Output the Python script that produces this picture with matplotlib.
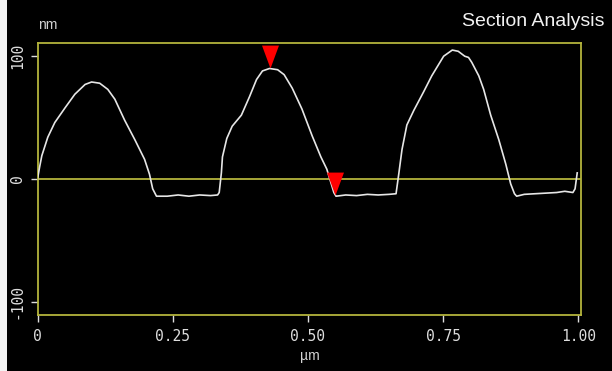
import matplotlib
matplotlib.use("Agg")
import matplotlib.pyplot as plt
from matplotlib.path import Path
from matplotlib.patches import Rectangle

# Section profile (µm, nm)
pos_um = [0.000, 0.004, 0.008, 0.019, 0.032, 0.051, 0.069, 0.088, 0.100, 0.115,
          0.130, 0.143, 0.161, 0.180, 0.198, 0.207, 0.213, 0.220,
          0.240, 0.260, 0.280, 0.300, 0.320, 0.333,
          0.336, 0.340, 0.342, 0.350, 0.360, 0.377, 0.392, 0.405, 0.416, 0.429,
          0.444, 0.456, 0.471, 0.489, 0.508, 0.524, 0.535, 0.548, 0.552,
          0.570, 0.590, 0.610, 0.630, 0.650, 0.663,
          0.668, 0.674, 0.683, 0.696, 0.714, 0.729, 0.751, 0.767, 0.778, 0.790,
          0.797, 0.803, 0.816, 0.825, 0.838, 0.853, 0.866, 0.875, 0.882, 0.886,
          0.900, 0.920, 0.940, 0.960, 0.975, 0.990, 0.994, 0.998]
height_nm = [0, 10, 19, 34, 46, 58, 69, 77, 79, 78,
             73, 65, 48, 32, 16, 4, -8, -14,
             -14, -13, -14, -13, -13.5, -13,
             -11, 5, 18, 33, 43, 52, 67, 81, 88, 90,
             89, 85, 74, 57, 35, 18, 8, -11, -14,
             -13, -13.5, -12.5, -13, -12.5, -12,
             4, 24, 44, 56, 71, 84, 100, 105, 104, 100,
             99, 95, 84, 73, 52, 32, 12, -4, -12, -14,
             -12.5, -12, -11.5, -11, -10, -11, -8, 5]

# Cursor markers
cursor_um = [0.430, 0.551]
cursor_nm = [90, -13]

x_ticks = [0, 0.25, 0.50, 0.75, 1.00]
x_labels = ["0", "0.25", "0.50", "0.75", "1.00"]
y_ticks = [-100, 0, 100]
y_labels = ["-100", "0", "100"]

frame_col = "#b4b43c"
text_col = "#d2d2d2"
mono = "DejaVu Sans Mono"

fig = plt.figure(figsize=(6.12, 3.71), dpi=100, facecolor="black")
fig.patches.append(Rectangle((0, 0), 7 / 612, 1, transform=fig.transFigure,
                             facecolor="#f4f4f4", edgecolor="none", zorder=0))
ax = fig.add_axes([37.5 / 612, 56.3 / 371, 543.5 / 612, 272 / 371])
ax.set_facecolor("black")

ax.plot(pos_um, height_nm, color="#e6e6e6", lw=1.2, zorder=3)
ax.axhline(0, color=frame_col, lw=1.3, zorder=2)

tri = Path([(-0.37, 1.0), (0.37, 1.0), (0.0, 0.0), (-0.37, 1.0)],
           [Path.MOVETO, Path.LINETO, Path.LINETO, Path.CLOSEPOLY])
ax.plot(cursor_um, cursor_nm, linestyle="none", marker=tri, markersize=33,
        markerfacecolor="#ff0000", markeredgecolor="none", zorder=4)

ax.set_xlim(0, 1.005)
ax.set_ylim(-110.5, 111)
for s in ax.spines.values():
    s.set_color(frame_col)
    s.set_linewidth(1.3)

ax.set_xticks(x_ticks)
ax.set_xticklabels(x_labels, family=mono, fontsize=10.5, color=text_col)
ax.set_yticks(y_ticks)
ax.set_yticklabels(y_labels, family=mono, fontsize=10.5, color=text_col,
                   rotation=90, va="center")
ax.tick_params(axis="both", colors="#dddddd", length=5, width=1)
ax.tick_params(axis="x", pad=5)
ax.tick_params(axis="y", pad=4)

fig.text(38 / 612, 1 - 25 / 371, "nm", color=text_col, fontsize=10,
         family="Liberation Sans", va="center", ha="left")
fig.text(310 / 612, 1 - 356 / 371, "µm", color=text_col, fontsize=10,
         family="Liberation Sans", va="center", ha="center")
fig.text(605 / 612, 1 - 22 / 371, "Section Analysis", color="#f2f2f2",
         fontsize=14, family="Liberation Sans", va="center", ha="right")

fig.savefig("out.png", dpi=100, facecolor="black")
